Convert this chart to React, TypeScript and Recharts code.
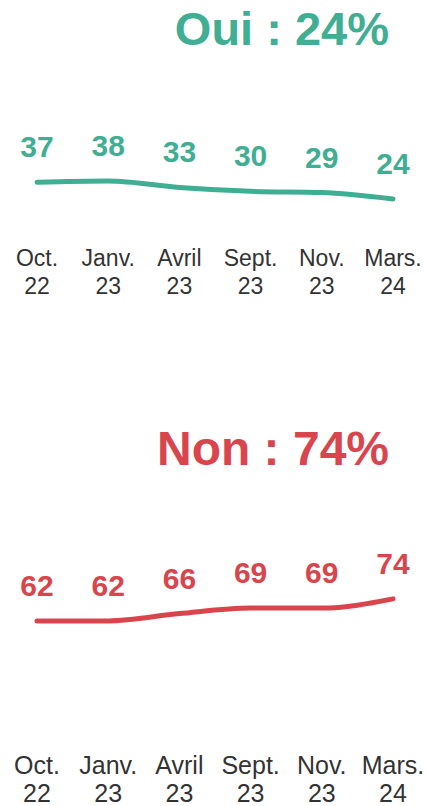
import { LineChart, Line, XAxis, YAxis } from 'recharts'

const months = ['Oct.', 'Janv.', 'Avril', 'Sept.', 'Nov.', 'Mars.']
const years = ['22', '23', '23', '23', '23', '24']
const ouiValues = [37, 38, 33, 30, 29, 24]
const nonValues = [62, 62, 66, 69, 69, 74]

const FONT = '"Liberation Sans", Arial, sans-serif'
const GREEN = '#3fae92'
const RED = '#d9454d'

function buildRows(values: number[]) {
  return months.map((m, i) => ({ key: `${m} ${years[i]}`, value: values[i] }))
}

function TwoLineTick(props: any) {
  const { x, y, payload, fontSize, firstDy } = props
  const [month, year] = String(payload.value).split(' ')
  return (
    <text x={x} y={y} textAnchor="middle" fill="#333" fontSize={fontSize} fontFamily={FONT}>
      <tspan x={x} dy={firstDy}>{month}</tspan>
      <tspan x={x} dy={28}>{year}</tspan>
    </text>
  )
}

interface PanelProps {
  title: string
  color: string
  values: number[]
  top: number
  height: number
  marginTop: number
  plotHeight: number
  titleTop: number
  titleSize: number
  tickSize: number
  tickDy: number
}

function Panel(p: PanelProps) {
  const data = buildRows(p.values)
  return (
    <div style={{ position: 'absolute', left: 0, top: p.top, width: 426, height: p.height }}>
      <div
        style={{
          position: 'absolute',
          right: 37,
          top: p.titleTop,
          fontFamily: FONT,
          fontWeight: 700,
          fontSize: p.titleSize,
          lineHeight: 1,
          color: p.color,
          whiteSpace: 'nowrap',
        }}
      >
        {p.title}
      </div>
      <LineChart width={426} height={p.height} data={data} margin={{ top: p.marginTop, right: 33, left: 37, bottom: 10 }}>
        <YAxis hide domain={[0, 100]} />
        <XAxis
          dataKey="key"
          axisLine={false}
          tickLine={false}
          height={p.height - p.marginTop - 10 - p.plotHeight}
          interval={0}
          tick={<TwoLineTick fontSize={p.tickSize} firstDy={p.tickDy} />}
        />
        <Line
          type="monotone"
          dataKey="value"
          stroke={p.color}
          strokeWidth={5}
          strokeLinecap="round"
          dot={false}
          activeDot={false}
          isAnimationActive={false}
          label={{ position: 'top', offset: 25, fill: p.color, fontSize: 30, fontWeight: 700, fontFamily: FONT }}
        />
      </LineChart>
    </div>
  )
}

export default function App() {
  return (
    <div style={{ position: 'absolute', left: 0, top: 0, width: 426, height: 806, background: '#fff' }}>
      <Panel
        title="Oui : 24%"
        color={GREEN}
        values={ouiValues}
        top={0}
        height={300}
        marginTop={101}
        plotHeight={129}
        titleTop={5}
        titleSize={47}
        tickSize={23}
        tickDy={28}
      />
      <Panel
        title="Non : 74%"
        color={RED}
        values={nonValues}
        top={420}
        height={386}
        marginTop={131}
        plotHeight={184}
        titleTop={5}
        titleSize={48}
        tickSize={25}
        tickDy={31}
      />
    </div>
  )
}
